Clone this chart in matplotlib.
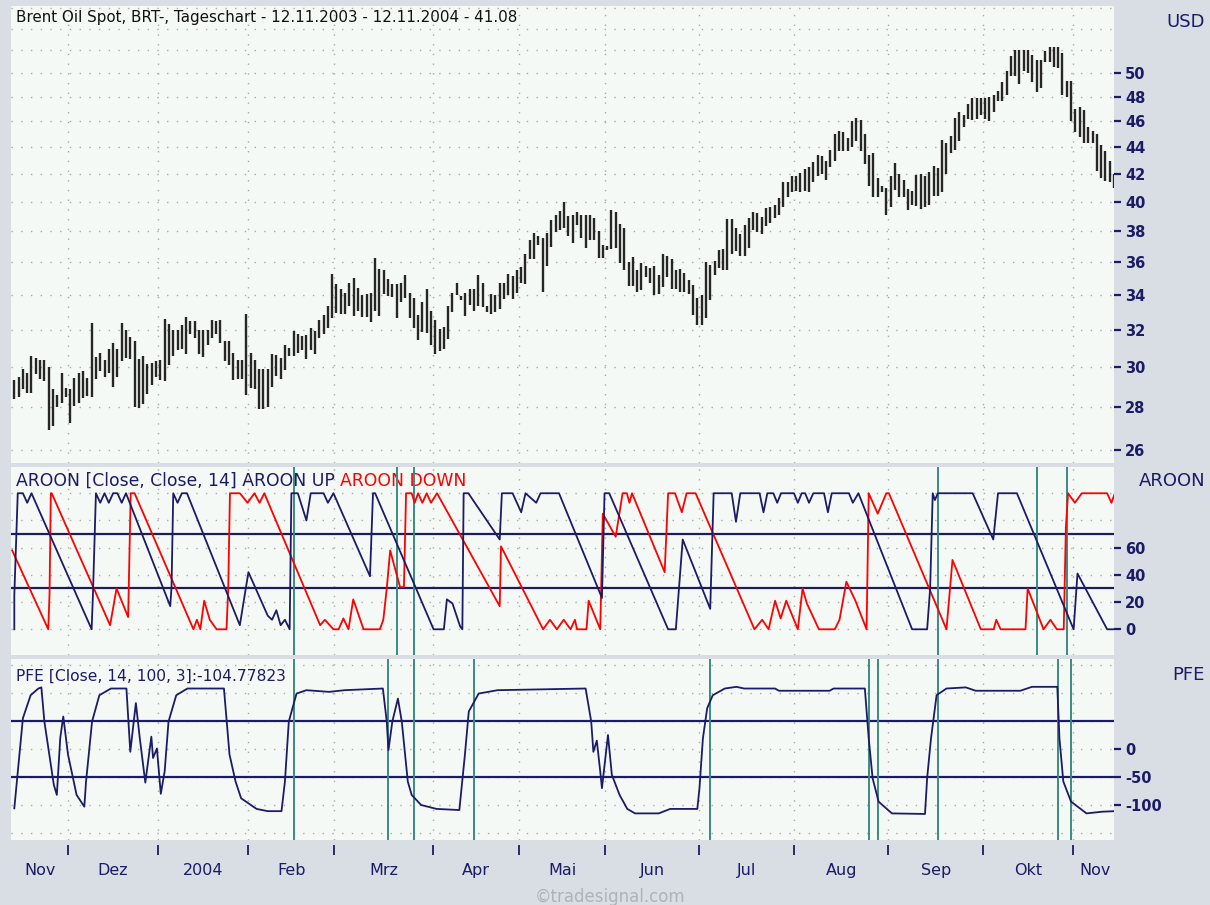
import numpy as np
import pandas as pd
import matplotlib
matplotlib.use("Agg")
import matplotlib.pyplot as plt
from matplotlib import transforms
from matplotlib.ticker import NullLocator, FixedLocator

plt.rcParams['font.family'] = ['DejaVu Sans']
plt.rcParams['axes.unicode_minus'] = False

BG = "#d9dde4"
PLOT_BG = "#f5f9f5"
NAVY = "#1b1b66"
RED = "#ff0000"
GREEN = "#3a8a80"
GRID = "#a8aaa8"
BAR = "#262626"

TITLE = "Brent Oil Spot, BRT-, Tageschart - 12.11.2003 - 12.11.2004 - 41.08"
AROON_TITLE = "AROON [Close, Close, 14] AROON UP "
AROON_TITLE_RED = "AROON DOWN"
PFE_TITLE = "PFE [Close, 14, 100, 3]:-104.77823"

# trading days (London holidays removed)
holidays = ["2003-12-25", "2003-12-26", "2004-01-01", "2004-04-09", "2004-04-12", "2004-05-31"]
dates = pd.bdate_range("2003-11-12", "2004-11-12")
dates = dates[~dates.isin(pd.to_datetime(holidays))]

month_labels = ["Nov", "Dez", "2004", "Feb", "Mrz", "Apr", "Mai", "Jun", "Jul", "Aug", "Sep", "Okt", "Nov"]

# daily high / low in USD
high = [29.35, 29.5, 29.9, 29.7, 30.6, 30.5, 30.4, 30.4, 30.0, 28.9, 28.6, 29.7, 28.95, 28.9, 29.45, 29.7,
        29.8, 29.45, 32.4, 30.55, 30.75, 30.4, 31.0, 31.3, 31.0, 32.4, 32.0, 31.65, 31.4, 30.45, 30.6, 30.2,
        30.25, 30.35, 30.4, 32.65, 32.35, 32.0, 32.0, 32.3, 32.75, 32.5, 32.5, 32.0, 32.0, 32.0, 32.6, 32.5,
        32.6, 31.4, 31.4, 30.75, 30.4, 30.4, 32.9, 30.75, 30.4, 29.9, 29.9, 29.9, 30.7, 30.65, 30.5, 31.2,
        31.05, 31.95, 31.8, 31.7, 31.75, 32.15, 31.95, 32.6, 32.85, 33.35, 35.3, 34.65, 34.4, 34.15, 34.75, 35.05,
        34.45, 34.0, 34.1, 34.15, 36.25, 35.6, 35.5, 35.0, 34.7, 34.65, 34.75, 35.2, 34.15, 33.85, 32.85, 33.6,
        34.4, 33.1, 32.6, 32.05, 32.2, 33.35, 34.15, 34.75, 33.95, 34.15, 34.4, 34.4, 35.2, 34.75, 33.35, 34.1,
        34.0, 34.75, 34.75, 35.3, 35.15, 35.5, 35.7, 36.55, 37.45, 37.9, 37.7, 37.55, 37.9, 38.75, 39.1, 39.35,
        39.95, 39.0, 39.1, 39.3, 39.05, 39.1, 39.1, 38.9, 38.0, 37.1, 37.05, 39.45, 39.3, 38.45, 38.2, 36.0,
        36.35, 35.55, 35.95, 35.8, 35.65, 35.8, 35.2, 36.5, 36.4, 36.2, 35.55, 35.6, 35.35, 34.9, 34.6, 33.85,
        34.0, 36.0, 35.85, 36.1, 36.8, 36.85, 38.8, 38.8, 38.2, 37.8, 38.4, 38.85, 39.3, 39.25, 38.95, 39.55,
        39.6, 39.8, 40.25,
        41.35, 41.35, 41.8, 41.8, 42.05, 42.3, 42.45, 42.85, 43.4, 43.3, 42.95, 43.75, 44.95, 45.2, 45.1, 44.7,
        46.0, 46.25, 46.05, 44.95, 43.4, 43.5, 41.65, 41.1, 40.95, 41.8, 42.8, 41.95, 41.55, 40.9, 40.75, 41.9,
        42.0, 41.85, 42.1, 42.55, 42.4, 44.5, 44.25, 44.85, 46.25, 46.7, 46.5, 47.4, 47.85, 47.85, 47.85, 47.85,
        47.95, 48.1, 48.5, 49.2, 50.15, 51.5, 52.0, 52.0, 52.0, 52.0, 51.6, 51.15, 51.15, 51.9, 52.35, 52.35,
        52.35, 51.8, 49.3, 49.3, 47.0, 47.1, 46.9, 45.5, 45.25, 45.0, 44.1, 43.65, 42.9, 41.95]
low = [28.4, 28.5, 28.9, 28.7, 28.7, 29.65, 29.4, 29.3, 26.9, 27.1, 28.0, 28.2, 28.5, 27.25, 28.05, 28.2,
       28.45, 28.55, 28.5, 29.4, 29.8, 29.5, 29.7, 29.0, 29.5, 30.35, 30.5, 30.45, 28.0, 27.95, 28.15, 28.65,
       29.1, 29.5, 29.35, 29.3, 30.15, 30.6, 30.9, 31.0, 30.7, 31.8, 31.55, 30.7, 30.55, 31.2, 31.55, 31.8,
       31.3, 30.35, 30.15, 29.35, 29.4, 29.4, 28.6, 28.95, 28.9, 27.9, 27.9, 28.0, 29.0, 29.55, 29.4, 29.85,
       30.6, 30.6, 30.75, 30.95, 30.45, 30.9, 30.7, 31.55, 31.8, 32.1, 32.7, 32.95, 32.9, 32.9, 33.4, 32.8,
       33.1, 32.75, 32.75, 32.45, 33.1, 32.8, 34.05, 33.95, 33.9, 32.7, 33.6, 33.85, 32.7, 32.1, 31.45, 31.9,
       31.85, 31.2, 30.7, 30.85, 31.0, 31.5, 33.05, 34.0, 33.7, 32.8, 33.45, 33.1, 33.4, 33.3, 33.05, 32.9,
       33.05, 33.2, 33.8, 34.0, 33.8, 34.15, 34.75, 34.7, 36.2, 36.2, 37.1, 34.2, 35.8, 37.0, 37.95, 38.05,
       38.2, 37.7, 37.2, 38.4, 37.55, 36.9, 37.45, 37.45, 36.3, 36.3, 36.8, 36.85, 36.9, 35.95, 35.5, 34.55,
       34.55, 34.2, 34.3, 35.1, 34.75, 34.0, 34.1, 34.5, 35.1, 34.4, 34.4, 34.2, 34.2, 34.1, 32.85, 32.3,
       32.3, 32.7, 33.75, 35.25, 35.65, 35.55, 35.55, 36.55, 36.7, 36.4, 36.4, 36.9, 38.1, 37.95, 37.8, 38.35,
       38.55, 38.85, 39.05,
       39.6, 40.3, 40.65, 40.75, 40.65, 40.75, 40.7, 41.35, 41.85, 41.95, 41.55, 42.45, 42.95, 43.65, 43.65, 43.65,
       44.0, 44.45, 43.65, 42.7, 41.1, 40.3, 40.3, 40.7, 39.05, 39.6, 40.85, 40.3, 40.35, 39.45, 39.8, 39.7,
       39.5, 39.6, 39.8, 40.4, 40.4, 40.65, 41.95, 43.55, 43.75, 44.45, 45.55, 46.2, 46.05, 46.2, 46.5, 46.2,
       46.0, 46.75, 47.6, 47.6, 48.1, 49.7, 49.7, 49.05, 50.15, 50.0, 49.2, 48.4, 48.7, 50.95, 50.95, 50.55,
       50.4, 48.1, 47.95, 46.0, 45.1, 44.75, 44.25, 44.25, 44.25, 42.2, 41.7, 41.45, 41.4, 40.95]

# AROON UP (bar index, value)
aroon_up = [(0, 0), (0, 25), (0.8, 100), (2, 100), (3, 93), (4, 100), (18, 0), (18.3, 25), (19, 100),
            (20, 93), (21, 100), (22, 93), (23, 100), (24, 100), (25, 93), (26, 100), (36.3, 17), (36.6, 31),
            (37, 100), (38, 93), (39, 100), (40.2, 100), (52.5, 3), (54.5, 42), (59, 10), (60, 7), (61, 14),
            (62, 3), (63, 7), (64.1, 0), (64.5, 100), (66, 100), (68, 80), (69, 100), (72, 100), (73, 93),
            (74.3, 100), (82.8, 39), (83.5, 100), (84, 100), (97.6, 0), (100, 0), (100.7, 22), (102, 19),
            (103.8, 2), (104.3, 0), (104.6, 100), (105.7, 100), (113, 66), (113.5, 100), (116, 100), (118, 86),
            (119, 100), (121.5, 93), (122.5, 100), (126.8, 100), (136.8, 23), (137.4, 100), (138.5, 100),
            (152.2, 0), (154, 0), (155.6, 66), (162, 15), (162.8, 100), (167, 100), (168, 79), (169, 100),
            (173.5, 100), (174.4, 86), (175.3, 100), (176.7, 100), (177.6, 93), (178.5, 100), (181.5, 100),
            (182.4, 93), (183.3, 100), (184.1, 100), (185, 93), (186, 100), (188.5, 100), (189.4, 86),
            (190.3, 100), (194.3, 100), (195.2, 93), (196.5, 100), (209, 0), (212.5, 0), (213.2, 30),
            (213.8, 100), (214.3, 95), (215, 100), (223.1, 100), (227.9, 66), (229, 100), (233.4, 100),
            (246.6, 0), (247.5, 41), (254.4, 0), (256.2, 0)]

# AROON DOWN (bar index, value)
aroon_down = [(-0.5, 58), (7.9, 0), (8.2, 26), (8.5, 100), (8.7, 100), (22.3, 3), (23.8, 30), (26.5, 9),
              (27.1, 100), (28, 100), (41.7, 0), (42.5, 7), (43.3, 0), (44.2, 21), (45.5, 7), (47.1, 0),
              (49.4, 0), (49.8, 30), (50.2, 100), (52.5, 100), (54.3, 93), (55.9, 100), (57.1, 93),
              (58.2, 100), (71.2, 3), (72.3, 7), (74.3, 0), (75.5, 0), (76.6, 8), (77.8, 0), (78.9, 22),
              (81.3, 0), (85.1, 0), (85.9, 7), (86.7, 30), (87.5, 58), (89.8, 31), (90.7, 31), (91.2, 100),
              (92.5, 100), (93.2, 93), (94, 100), (95, 93), (96, 100), (97, 93), (98.4, 100), (113, 17),
              (113.3, 61), (123.1, 0), (124.7, 7), (126.3, 0), (127.9, 7), (129.5, 0), (130.5, 7), (131, 0),
              (133.2, 0), (133.7, 21), (136.4, 0), (137, 85), (140, 68), (141.1, 90), (141.6, 100),
              (142.6, 100), (143.2, 93), (143.8, 100), (151.4, 42), (152.2, 100), (153.8, 100), (155.4, 86),
              (156.5, 100), (158.6, 100), (172.3, 0), (174.1, 7), (175.6, 0), (177.1, 21), (178.4, 8),
              (179.7, 21), (182.4, 0), (183.5, 30), (184.5, 19), (187.3, 0), (191, 0), (192.1, 7), (193.7, 35),
              (195.8, 21), (198.4, 0), (198.9, 100), (201, 85), (203, 100), (203.6, 100), (217, 0), (218.4, 51),
              (225, 0), (228, 0), (228.6, 7), (229.6, 0), (235.4, 0), (235.9, 30), (239.6, 0), (241.2, 7),
              (242.7, 0), (244.3, 0), (244.8, 75), (245.3, 100), (246.9, 93), (248.5, 100), (254.4, 100),
              (255.4, 93), (256.2, 100)]

# PFE (bar index, value)
pfe = [(0, -106), (2, 55), (3.8, 96), (5.6, 108), (6.3, 110), (7, 49), (9.2, -64), (9.9, -82), (10.7, 20),
       (11.4, 58), (12.5, -10), (14.5, -82), (16.3, -103), (16.7, -58), (18.1, 49), (19.8, 96), (22.5, 108),
       (26.1, 108), (27, -5), (28.3, 82), (29.2, 20), (30.5, -60), (31.9, 22), (32.3, -16), (33.2, 1),
       (34.1, -80), (35, -40), (35.9, 49), (37.7, 96), (40.3, 108), (48.8, 108), (50.1, -10), (51.5, -58),
       (52.8, -88), (56.4, -107), (59, -111), (62.2, -111), (63, -58), (63.9, 49), (65.7, 99), (68, 105),
       (73.3, 102), (76.9, 105), (85.8, 108), (86.7, 49), (87.1, -2), (88, 49), (89.3, 90), (90.2, 49),
       (91.6, -58), (92.5, -82), (94.7, -100), (98.3, -107), (103.6, -109), (104.9, -10), (105.8, 67),
       (108.1, 99), (112.5, 105), (133, 108), (134.3, 49), (134.8, -5), (135.6, 15), (136.4, -40),
       (136.8, -70), (138.2, 25), (139.1, -46), (140.9, -82), (142.7, -107), (144.5, -115), (150, -115),
       (152.7, -107), (159, -107), (159.5, -70), (160.3, 19), (161.3, 73), (162.6, 96), (165.4, 108),
       (168.1, 111), (169.9, 108), (177.1, 108), (178, 104), (189.8, 104), (190.7, 108), (198, 108),
       (198.9, 19), (199.8, -52), (201.2, -94), (204.3, -115), (212, -116), (212.5, -52), (213.4, 19),
       (214.7, 96), (217, 108), (221.5, 110), (223.8, 104), (234.2, 104), (236.9, 111), (242.8, 111),
       (243.3, 19), (244.2, -58), (246, -94), (249.6, -115), (253.2, -112), (256.2, -111)]

aroon_signals = [65, 89, 93, 215, 238, 245]
pfe_signals = [65, 87, 93, 107, 162, 199, 201, 215, 243, 246]

price_ticks = [26, 28, 30, 32, 34, 36, 38, 40, 42, 44, 46, 48, 50]
aroon_ticks = [0, 20, 40, 60]
aroon_levels = [30, 70]
pfe_ticks = [0, -50, -100]
pfe_levels = [-50, 50]

n = min(len(high), len(low), len(dates))
xs = np.arange(n)
per = dates[:n].to_period("M")
starts = [0] + [i for i in range(1, n) if per[i] != per[i - 1]]
ends = starts[1:] + [n]
centers = [(s + e - 1) / 2 for s, e in zip(starts, ends)]
bounds = [s - 0.5 for s in starts[1:]]

fig = plt.figure(figsize=(12.1, 9.05), dpi=100, facecolor=BG)
W, H = 1210, 905
left, right = 11 / W, 1114 / W


def make_ax(top_px, bot_px):
    ax = fig.add_axes([left, 1 - bot_px / H, right - left, (bot_px - top_px) / H])
    ax.set_facecolor(PLOT_BG)
    for s in ax.spines.values():
        s.set_visible(False)
    ax.set_xlim(-0.77, 256.0)
    ax.set_xticks([])
    ax.yaxis.tick_right()
    ax.tick_params(axis="y", which="major", direction="out", length=5, width=1.6, color=NAVY,
                   labelcolor=NAVY, labelsize=10.5, pad=3)
    for b in bounds:
        ax.axvline(b, color=GRID, lw=1, ls=(0, (1, 6)), zorder=0)
    return ax


# price panel
ax_p = make_ax(6, 463)
ax_p.set_yscale("log")
ax_p.set_ylim(25.42, 56.16)
ax_p.yaxis.set_minor_locator(NullLocator())
ax_p.yaxis.set_major_locator(FixedLocator(price_ticks))
ax_p.set_yticklabels([str(t) for t in price_ticks], fontweight="bold")
for g in range(26, 57, 2):
    ax_p.axhline(g, color=GRID, lw=1, ls=(0, (1, 6)), zorder=0)
ax_p.vlines(xs, low[:n], high[:n], color=BAR, lw=1.7, zorder=3)
ax_p.text(0.0045, 0.974, TITLE, transform=ax_p.transAxes, fontsize=10.9, color="#111111",
          va="center", ha="left")

# aroon panel
ax_a = make_ax(467, 655)
ax_a.set_ylim(-18.9, 119.3)
ax_a.set_yticks(aroon_ticks)
ax_a.set_yticklabels([str(t) for t in aroon_ticks], fontweight="bold")
for g in range(-20, 101, 20):
    ax_a.axhline(g, color=GRID, lw=1, ls=(0, (1, 6)), zorder=0)
for lv in aroon_levels:
    ax_a.axhline(lv, color=NAVY, lw=1.6, zorder=2)
for s in aroon_signals:
    ax_a.axvline(s, color=GREEN, lw=1.4, zorder=2)
ux, uy = zip(*aroon_up)
dx, dy = zip(*aroon_down)
ax_a.plot(dx, dy, color=RED, lw=1.3, zorder=3)
ax_a.plot(ux, uy, color=NAVY, lw=1.3, zorder=4)
t1 = ax_a.text(0.0045, 0.9255, AROON_TITLE, transform=ax_a.transAxes, fontsize=12.4, color=NAVY,
               va="center", ha="left", zorder=1)
ax_a.annotate(AROON_TITLE_RED, xy=(1, 0.5), xycoords=t1, fontsize=12.4, color=RED,
              va="center", ha="left", zorder=1)

# pfe panel
ax_f = make_ax(659, 840)
ax_f.set_ylim(-162.5, 160.7)
ax_f.set_yticks(pfe_ticks)
ax_f.set_yticklabels([str(t) for t in pfe_ticks], fontweight="bold")
for g in range(-150, 151, 50):
    ax_f.axhline(g, color=GRID, lw=1, ls=(0, (1, 6)), zorder=0)
for lv in pfe_levels:
    ax_f.axhline(lv, color=NAVY, lw=1.6, zorder=2)
for s in pfe_signals:
    ax_f.axvline(s, color=GREEN, lw=1.4, zorder=2)
px, py = zip(*pfe)
ax_f.plot(px, py, color=NAVY, lw=1.3, zorder=4)
ax_f.text(0.0045, 0.906, PFE_TITLE, transform=ax_f.transAxes, fontsize=11.2, color=NAVY,
          va="center", ha="left", zorder=1)

# month axis below pfe panel
trans = transforms.blended_transform_factory(ax_f.transData, ax_f.transAxes)
ax_f.vlines(bounds, -0.03, -0.085, transform=trans, color=NAVY, lw=1.3, clip_on=False)
for c, lab in zip(centers, month_labels):
    ax_f.text(c, -0.166, lab, transform=trans, ha="center", va="center", fontsize=11.5,
              color=NAVY, clip_on=False)

# unit labels on the right
fig.text(1205 / W, 1 - 22 / H, "USD", ha="right", va="center", fontsize=13, color=NAVY)
fig.text(1205 / W, 1 - 481 / H, "AROON", ha="right", va="center", fontsize=13, color=NAVY)
fig.text(1205 / W, 1 - 675 / H, "PFE", ha="right", va="center", fontsize=13, color=NAVY)
fig.text(610 / W, 1 - 897 / H, "\u00a9tradesignal.com", ha="center", va="center", fontsize=12,
         color="#aeb2ba")

fig.savefig("out.png", dpi=100, facecolor=BG)
